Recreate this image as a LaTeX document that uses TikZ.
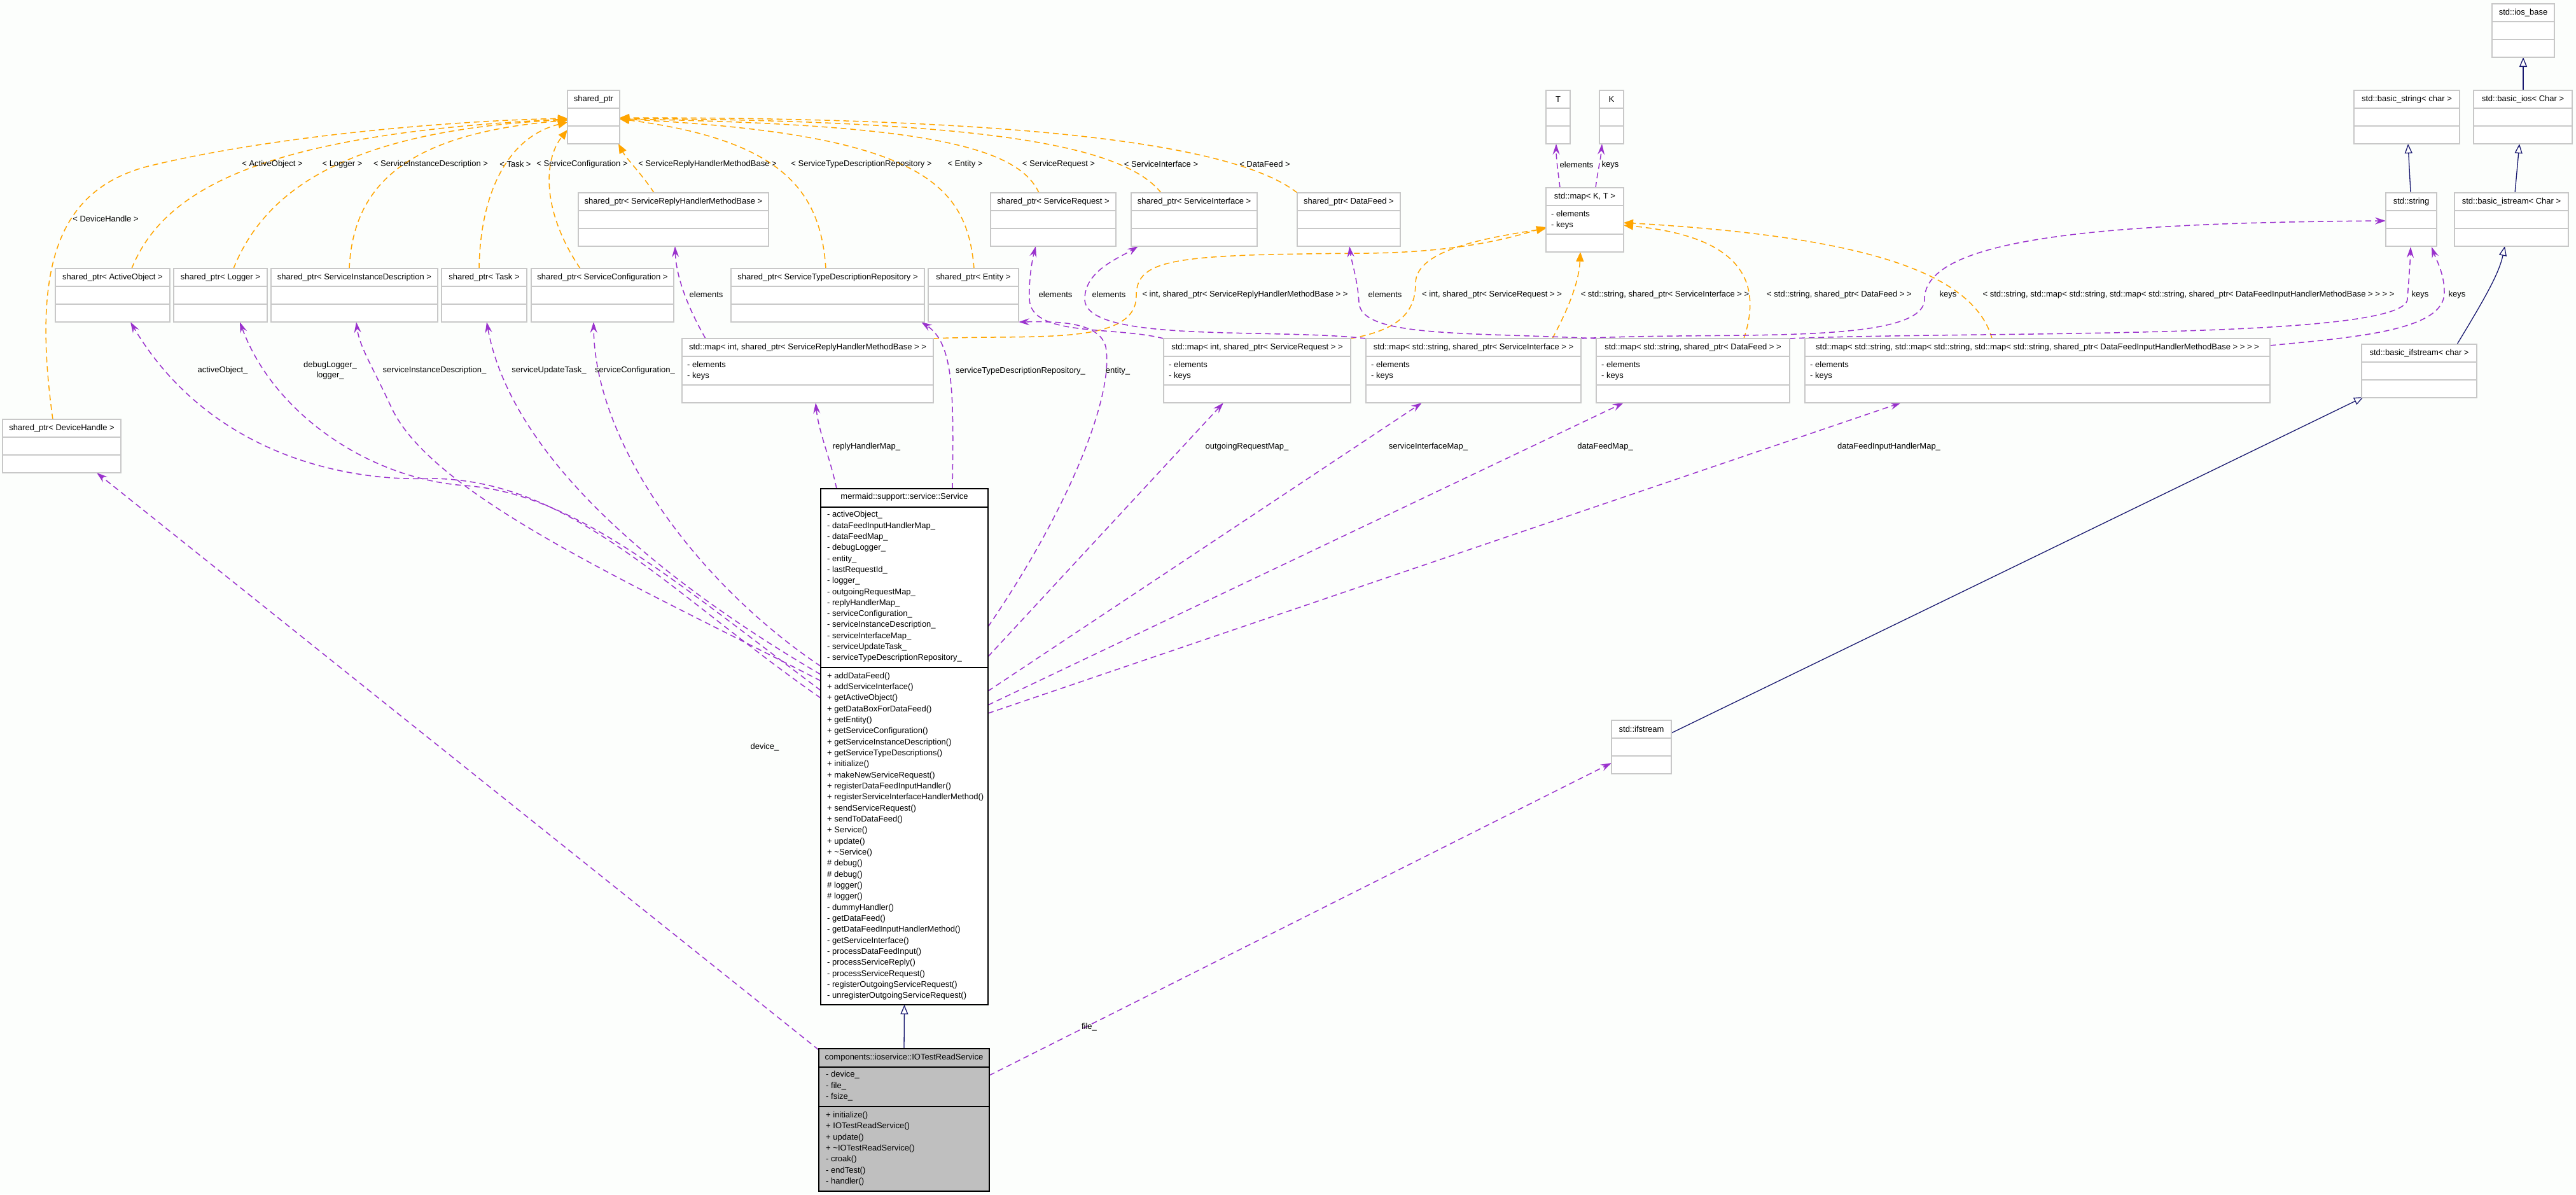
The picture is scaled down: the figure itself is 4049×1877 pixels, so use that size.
\documentclass[tikz,border=0pt]{standalone}
\usepackage{fontspec}
\setmainfont{Liberation Sans}
\usetikzlibrary{arrows.meta,calc}
\definecolor{boxgray}{RGB}{200,200,200}
\definecolor{tmplorange}{RGB}{255,165,0}
\definecolor{usepurple}{RGB}{154,50,205}
\definecolor{inhnavy}{RGB}{25,25,112}
\definecolor{iotfill}{RGB}{191,191,191}
\definecolor{bgcol}{RGB}{252,254,252}
\newcommand{\lbl}{\fontsize{13}{16}\selectfont}
\pgfdeclarelayer{bg}
\pgfdeclarelayer{edges}
\pgfsetlayers{bg,edges,main}
\tikzset{
  cbox/.style={draw=boxgray, line width=1.6pt, fill=white, inner sep=0pt, outer sep=0pt, rectangle},
  sepl/.style={draw=boxgray, line width=1.6pt},
  blksep/.style={draw=black, line width=1.6pt},
  ttl/.style={font=\lbl, inner sep=0pt},
  mem/.style={font=\lbl, inner sep=0pt, anchor=west},
  elbl/.style={font=\lbl, inner sep=0pt},
  tmpl/.style={draw=tmplorange, line width=1.5pt, dash pattern=on 9pt off 6pt, -{Triangle[length=15pt,width=12pt]}},
  use/.style={draw=usepurple, line width=1.5pt, dash pattern=on 9pt off 6pt, -{Stealth[length=17pt,width=11pt,inset=6pt]}},
  inh/.style={draw=inhnavy, line width=1.3pt, -{Triangle[length=15pt,width=12pt,fill=white]}},
}
\newcommand{\ebox}[5]{%
  \pgfmathsetmacro\bw{#3-#2}%
  \pgfmathsetmacro\bx{(#2+#3)/2}%
  \node[cbox, minimum width=\bw pt, minimum height=84pt] (#1) at (\bx,#4+42) {};
  \draw[sepl] (#2,#4+28) -- (#3,#4+28) (#2,#4+56) -- (#3,#4+56);
  \node[ttl] (#1-t) at (\bx,#4+14) {#5};
}
\newcommand{\mapbox}[5]{%
  \pgfmathsetmacro\bw{#3-#2}%
  \pgfmathsetmacro\bx{(#2+#3)/2}%
  \node[cbox, minimum width=\bw pt, minimum height=101pt] (#1) at (\bx,#4+50.5) {};
  \draw[sepl] (#2,#4+28) -- (#3,#4+28) (#2,#4+73) -- (#3,#4+73);
  \node[ttl] (#1-t) at (\bx,#4+14) {#5};
  \node[mem] (#1-e) at (#2+8,#4+41) {- elements};
  \node[mem] (#1-k) at (#2+8,#4+59) {- keys};
}
\begin{document}
\begin{tikzpicture}[x=1pt,y=-1pt]
\begin{pgfonlayer}{bg}
\fill[bgcol] (0,0) rectangle (4049,1877);
\end{pgfonlayer}
\useasboundingbox (0,0) rectangle (4049,1877);

% ---------- boxes ----------
\ebox{sp}{892}{974}{142}{shared\_ptr}
\ebox{T}{2430}{2468}{142}{T}
\ebox{K}{2514}{2552}{142}{K}
\ebox{bstring}{3700}{3866}{142}{std::basic\_string< char >}
\ebox{bios}{3888}{4043}{142}{std::basic\_ios< Char >}
\ebox{iosbase}{3917}{4015}{6}{std::ios\_base}
\ebox{spSRHMB}{909}{1208}{303}{shared\_ptr< ServiceReplyHandlerMethodBase >}
\ebox{spSR}{1557}{1754}{303}{shared\_ptr< ServiceRequest >}
\ebox{spSI}{1778}{1976}{303}{shared\_ptr< ServiceInterface >}
\ebox{spDF}{2039}{2201}{303}{shared\_ptr< DataFeed >}
\ebox{stdstring}{3750}{3830}{303}{std::string}
\ebox{bistream}{3858}{4037}{303}{std::basic\_istream< Char >}
\mapbox{mapKT}{2430}{2552}{295}{std::map< K, T >}
\ebox{spAO}{87}{267}{422}{shared\_ptr< ActiveObject >}
\ebox{spLog}{273}{420}{422}{shared\_ptr< Logger >}
\ebox{spSID}{426}{688}{422}{shared\_ptr< ServiceInstanceDescription >}
\ebox{spTask}{694}{828}{422}{shared\_ptr< Task >}
\ebox{spSC}{835}{1059}{422}{shared\_ptr< ServiceConfiguration >}
\ebox{spSTDR}{1149}{1453}{422}{shared\_ptr< ServiceTypeDescriptionRepository >}
\ebox{spEnt}{1459}{1601}{422}{shared\_ptr< Entity >}
\mapbox{mapSRHMB}{1072}{1467}{532}{std::map< int, shared\_ptr< ServiceReplyHandlerMethodBase > >}
\mapbox{mapSR}{1829}{2123}{532}{std::map< int, shared\_ptr< ServiceRequest > >}
\mapbox{mapSI}{2147}{2485}{532}{std::map< std::string, shared\_ptr< ServiceInterface > >}
\mapbox{mapDF}{2509}{2813}{532}{std::map< std::string, shared\_ptr< DataFeed > >}
\mapbox{mapDFIH}{2837}{3568}{532}{std::map< std::string, std::map< std::string, std::map< std::string, shared\_ptr< DataFeedInputHandlerMethodBase > > > >}
\ebox{bifstream}{3712}{3893}{541}{std::basic\_ifstream< char >}
\ebox{spDH}{4}{190}{659}{shared\_ptr< DeviceHandle >}
\ebox{ifstream}{2533}{2627}{1132}{std::ifstream}

% Service
\node[draw=black, line width=1.6pt, fill=white, inner sep=0pt, outer sep=0pt, minimum width=263pt, minimum height=811pt] (svc) at (1421.5,1173.5) {};
\draw[blksep] (1290,797) -- (1553,797) (1290,1049) -- (1553,1049);
\node[ttl] (svc-t) at (1421.5,781) {mermaid::support::service::Service};
\foreach \mt [count=\i from 0] in {- activeObject\_, - dataFeedInputHandlerMap\_, - dataFeedMap\_, - debugLogger\_, - entity\_, - lastRequestId\_, - logger\_, - outgoingRequestMap\_, - replyHandlerMap\_, - serviceConfiguration\_, - serviceInstanceDescription\_, - serviceInterfaceMap\_, - serviceUpdateTask\_, - serviceTypeDescriptionRepository\_}
  \node[mem] (svca\i) at (1300,809.6+17.3*\i) {\mt};
\foreach \mt [count=\i from 0] in {+ addDataFeed(), + addServiceInterface(), + getActiveObject(), + getDataBoxForDataFeed(), + getEntity(), + getServiceConfiguration(), + getServiceInstanceDescription(), + getServiceTypeDescriptions(), + initialize(), + makeNewServiceRequest(), + registerDataFeedInputHandler(), + registerServiceInterfaceHandlerMethod(), + sendServiceRequest(), + sendToDataFeed(), + Service(), + update(), + \textasciitilde Service(), \# debug(), \# debug(), \# logger(), \# logger(), - dummyHandler(), - getDataFeed(), - getDataFeedInputHandlerMethod(), - getServiceInterface(), - processDataFeedInput(), - processServiceReply(), - processServiceRequest(), - registerOutgoingServiceRequest(), - unregisterOutgoingServiceRequest()}
  \node[mem] (svcm\i) at (1300,1062.7+17.34*\i) {\mt};

% IOTestReadService
\node[draw=black, line width=1.6pt, fill=iotfill, inner sep=0pt, outer sep=0pt, minimum width=268pt, minimum height=224pt] (iot) at (1421,1760) {};
\draw[blksep] (1287,1677) -- (1555,1677) (1287,1739) -- (1555,1739);
\node[ttl] (iot-t) at (1421,1662) {components::ioservice::IOTestReadService};
\foreach \mt [count=\i from 0] in {- device\_, - file\_, - fsize\_}
  \node[mem] (iota\i) at (1298,1689.5+17.4*\i) {\mt};
\foreach \mt [count=\i from 0] in {+ initialize(), + IOTestReadService(), + update(), + \textasciitilde IOTestReadService(), - croak(), - endTest(), - handler()}
  \node[mem] (iotm\i) at (1298,1753+17.35*\i) {\mt};

% ---------- edges ----------
\begin{pgfonlayer}{edges}
% template instantiation (orange)
\draw[tmpl] ($(spDH.north west)+(79,0)$) .. controls (50,420) and (90,300) .. (230,262) .. controls (420,215) and (700,190) .. ($(sp.north west)+(0,44)$);
\draw[tmpl] ($(spAO.north west)+(120,0)$) .. controls (260,290) and (430,210) .. ($(sp.north west)+(0,45)$);
\draw[tmpl] ($(spLog.north west)+(94,0)$) .. controls (420,290) and (560,205) .. ($(sp.north west)+(0,46)$);
\draw[tmpl] ($(spSID.north west)+(123,0)$) .. controls (555,290) and (640,210) .. ($(sp.north west)+(0,47)$);
\draw[tmpl] ($(spTask.north west)+(59,0)$) .. controls (755,300) and (800,215) .. ($(sp.north west)+(0,50)$);
\draw[tmpl] ($(spSC.north west)+(77,0)$) .. controls (850,330) and (855,250) .. ($(sp.north west)+(0,62)$);
\draw[tmpl] ($(spSRHMB.north west)+(119,0)$) .. controls (1010,275) and (985,250) .. ($(sp.north west)+(80,84)$);
\draw[tmpl] ($(spSTDR.north west)+(149,0)$) .. controls (1290,300) and (1230,220) .. ($(sp.north west)+(82,45)$);
\draw[tmpl] ($(spEnt.north west)+(72,0)$) .. controls (1520,290) and (1450,210) .. ($(sp.north west)+(82,45)$);
\draw[tmpl] ($(spSR.north west)+(76,0)$) .. controls (1600,230) and (1450,195) .. ($(sp.north west)+(82,45)$);
\draw[tmpl] ($(spSI.north west)+(47,0)$) .. controls (1760,220) and (1500,190) .. ($(sp.north west)+(82,44)$);
\draw[tmpl] (spDF.north west) .. controls (1940,225) and (1600,185) .. ($(sp.north west)+(82,43)$);
\draw[tmpl] (mapSRHMB.north east) .. controls (1620,525) and (1786,545) .. (1786,465) .. controls (1786,405) and (1850,400) .. (2150,398) .. controls (2300,396) and (2380,372) .. ($(mapKT.north west)+(0,62)$);
\draw[tmpl] (mapSR.north east) .. controls (2200,518) and (2225,490) .. (2225,445) .. controls (2225,390) and (2350,372) .. ($(mapKT.north west)+(0,64)$);
\draw[tmpl] ($(mapSI.north west)+(293,0)$) .. controls (2468,480) and (2482,440) .. ($(mapKT.north west)+(54,101)$);
\draw[tmpl] ($(mapDF.north west)+(232,0)$) .. controls (2775,430) and (2720,370) .. ($(mapKT.north west)+(122,59)$);
\draw[tmpl] ($(mapDFIH.north west)+(294,0)$) .. controls (3100,420) and (2900,370) .. ($(mapKT.north west)+(122,55)$);
% usage (purple)
\draw[use] ($(mapKT.north west)+(22,0)$) .. controls (2449,270) and (2446,250) .. ($(T.north west)+(16,84)$);
\draw[use] ($(mapKT.north west)+(78,0)$) .. controls (2511,270) and (2516,250) .. ($(K.north west)+(4,84)$);
\draw[use] ($(mapSRHMB.north west)+(37,0)$) .. controls (1085,490) and (1063,440) .. ($(spSRHMB.north west)+(152,84)$);
\draw[use] (mapSR.north west) .. controls (1750,512) and (1620,530) .. (1618,470) .. controls (1617,440) and (1622,410) .. ($(spSR.north west)+(71,84)$);
\draw[use] (mapSI.north west) .. controls (2000,515) and (1705,540) .. (1705,470) .. controls (1705,425) and (1760,405) .. ($(spSI.north west)+(11,84)$);
\draw[use] (mapDF.north west) .. controls (2300,522) and (2138,530) .. (2136,475) .. controls (2134,440) and (2124,410) .. ($(spDF.north west)+(82,84)$);
\draw[use] (mapSI.north east) .. controls (2700,520) and (3025,545) .. (3025,470) .. controls (3025,375) and (3300,350) .. ($(stdstring.north west)+(0,44)$);
\draw[use] (mapDF.north east) .. controls (3100,520) and (3782,535) .. (3784,470) .. controls (3786,440) and (3788,420) .. ($(stdstring.north west)+(39,85)$);
\draw[use] ($(mapDFIH.north east)+(0,11)$) .. controls (3700,530) and (3842,520) .. (3842,460) .. controls (3842,430) and (3830,410) .. ($(stdstring.north west)+(72,85)$);
\draw[use] ($(svc.north west)+(0,329)$) .. controls (1050,930) and (900,755) .. (680,752) .. controls (520,758) and (320,700) .. ($(spAO.north west)+(118,84)$);
\draw[use] ($(svc.north west)+(0,317)$) .. controls (1050,905) and (900,775) .. (730,763) .. controls (580,752) and (430,650) .. ($(spLog.north west)+(104,84)$);
\draw[use] ($(svc.north west)+(0,302)$) .. controls (1000,920) and (680,780) .. (615,640) .. controls (585,575) and (565,545) .. ($(spSID.north west)+(134,84)$);
\draw[use] ($(svc.north west)+(0,292)$) .. controls (1000,890) and (800,700) .. ($(spTask.north west)+(71,84)$);
\draw[use] ($(svc.north west)+(0,279)$) .. controls (1100,920) and (935,700) .. ($(spSC.north west)+(98,84)$);
\draw[use] ($(svc.north west)+(25,0)$) .. controls (1305,720) and (1287,680) .. ($(mapSRHMB.north west)+(210,101)$);
\draw[use] ($(svc.north west)+(207,0)$) .. controls (1499,620) and (1500,540) .. ($(spSTDR.north west)+(299,84)$);
\draw[use] ($(svc.north east)+(0,217)$) .. controls (1680,800) and (1752,620) .. (1738,545) .. controls (1728,505) and (1660,505) .. (spEnt.south east);
\draw[use] ($(svc.north east)+(0,264)$) -- ($(mapSR.north west)+(94,101)$);
\draw[use] ($(svc.north east)+(0,318)$) -- ($(mapSI.north west)+(88,101)$);
\draw[use] ($(svc.north east)+(0,340)$) -- ($(mapDF.north west)+(43,101)$);
\draw[use] ($(svc.north east)+(0,353)$) -- ($(mapDFIH.north west)+(151,101)$);
\draw[use] ($(iot.north west)+(0,2)$) -- ($(spDH.north west)+(148,84)$);
\draw[use] ($(iot.north east)+(0,42)$) -- ($(ifstream.north west)+(0,67)$);
% inheritance (navy)
\draw[inh] (iot.north) -- (svc.south);
\draw[inh] ($(ifstream.north east)+(0,20)$) -- ($(bifstream.north west)+(3,83)$);
\draw[inh] ($(bifstream.north west)+(150,0)$) .. controls (3905,470) and (3928,430) .. ($(bistream.north west)+(79,84)$);
\draw[inh] ($(stdstring.north west)+(39,0)$) -- ($(bstring.north west)+(85,84)$);
\draw[inh] ($(bistream.north west)+(95,0)$) -- ($(bios.north west)+(72,84)$);
\draw[inh] ($(bios.north west)+(78,0)$) -- ($(iosbase.north west)+(49,84)$);
\end{pgfonlayer}

% ---------- edge labels ----------
\node[elbl] (l01) at (166,344) {< DeviceHandle >};
\node[elbl] (l02) at (428,258) {< ActiveObject >};
\node[elbl] (l03) at (538,258) {< Logger >};
\node[elbl] (l04) at (677,258) {< ServiceInstanceDescription >};
\node[elbl] (l05) at (810,258) {< Task >};
\node[elbl] (l06) at (915,258) {< ServiceConfiguration >};
\node[elbl] (l07) at (1112,258) {< ServiceReplyHandlerMethodBase >};
\node[elbl] (l08) at (1354,258) {< ServiceTypeDescriptionRepository >};
\node[elbl] (l09) at (1517,258) {< Entity >};
\node[elbl] (l10) at (1664,258) {< ServiceRequest >};
\node[elbl] (l11) at (1825,258) {< ServiceInterface >};
\node[elbl] (l12) at (1988,258) {< DataFeed >};
\node[elbl] (l13) at (2478,259) {elements};
\node[elbl] (l14) at (2531,259) {keys};
\node[elbl] (l15) at (1110,463) {elements};
\node[elbl] (l16) at (1659,463) {elements};
\node[elbl] (l17) at (1743,463) {elements};
\node[elbl] (l18) at (1957,463) {< int, shared\_ptr< ServiceReplyHandlerMethodBase > >};
\node[elbl] (l19) at (2177,463) {elements};
\node[elbl] (l20) at (2345,463) {< int, shared\_ptr< ServiceRequest > >};
\node[elbl] (l21) at (2617,463) {< std::string, shared\_ptr< ServiceInterface > >};
\node[elbl] (l22) at (2891,463) {< std::string, shared\_ptr< DataFeed > >};
\node[elbl] (l23) at (3062,463) {keys};
\node[elbl] (l24) at (3440,463) {< std::string, std::map< std::string, std::map< std::string, shared\_ptr< DataFeedInputHandlerMethodBase > > > >};
\node[elbl] (l25) at (3804,463) {keys};
\node[elbl] (l26) at (3862,463) {keys};
\node[elbl] (l27) at (350,582) {activeObject\_};
\node[elbl, align=center] (l28) at (519,582) {debugLogger\_\\logger\_};
\node[elbl] (l29) at (683,582) {serviceInstanceDescription\_};
\node[elbl] (l30) at (863,582) {serviceUpdateTask\_};
\node[elbl] (l31) at (998,582) {serviceConfiguration\_};
\node[elbl] (l32) at (1604,583) {serviceTypeDescriptionRepository\_};
\node[elbl] (l33) at (1757,583) {entity\_};
\node[elbl] (l34) at (1362,702) {replyHandlerMap\_};
\node[elbl] (l35) at (1960,702) {outgoingRequestMap\_};
\node[elbl] (l36) at (2245,702) {serviceInterfaceMap\_};
\node[elbl] (l37) at (2523,702) {dataFeedMap\_};
\node[elbl] (l38) at (2969,702) {dataFeedInputHandlerMap\_};
\node[elbl] (l39) at (1202,1174) {device\_};
\node[elbl] (l40) at (1712,1614) {file\_};
\end{tikzpicture}
\end{document}
